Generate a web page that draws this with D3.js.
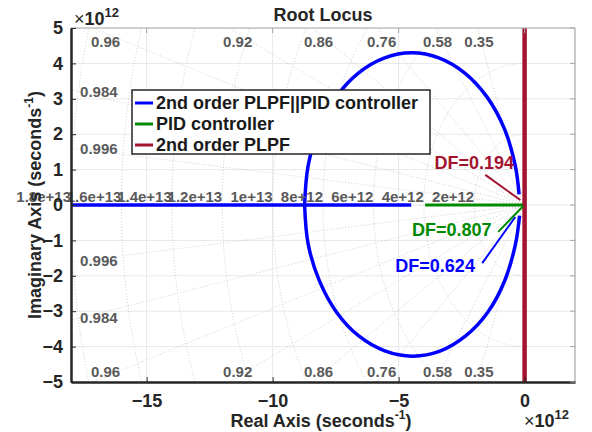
<!DOCTYPE html>
<html>
<head>
<meta charset="utf-8">
<script src="https://cdn.jsdelivr.net/npm/d3@7"></script>
<style>
  body { margin: 0; background: #fff; }
  text { font-family: "Liberation Sans", Arial, sans-serif; font-weight: bold; }
</style>
</head>
<body>
<svg id="chart" width="592" height="432"></svg>
<script>
// values in units of 1e12 s^-1
var X_TICKS = [-15, -10, -5, 0];
var Y_TICKS = [-5, -4, -3, -2, -1, 0, 1, 2, 3, 4, 5];
var DAMPING = [0.35, 0.58, 0.76, 0.86, 0.92, 0.96, 0.984, 0.996];
var WN = [2, 4, 6, 8, 10, 12, 14, 16, 18];
var WN_LABELS = ['2e+12', '4e+12', '6e+12', '8e+12', '1e+13', '1.2e+13', '1.4e+13', '1.6e+13', '1.8e+13'];

var SERIES_NAMES = ['2nd order PLPF||PID controller', 'PID controller', '2nd order PLPF'];
var SERIES_COLORS = ['#0000ff', '#008a00', '#a2142f'];

// 2nd order PLPF||PID : real-axis branch + circular branches
var COMBINED_REAL = [[-18.5, 0], [-4.5, 0]];
var COMBINED_UPPER = [[-8.73, 0], [-8.59, 1.11], [-8.16, 2.15], [-7.49, 3.04], [-6.61, 3.72], [-5.58, 4.15],
  [-4.48, 4.3], [-3.38, 4.15], [-2.36, 3.72], [-1.48, 3.04], [-0.8, 2.15], [-0.37, 1.11], [-0.22, 0.3]];
var COMBINED_LOWER = [[-8.73, 0], [-8.59, -1.1], [-8.15, -2.13], [-7.47, -3.02], [-6.58, -3.7], [-5.55, -4.12],
  [-4.45, -4.27], [-3.36, -4.13], [-2.34, -3.7], [-1.46, -3.03], [-0.79, -2.14], [-0.36, -1.1], [-0.2, -0.3]];
// PID controller
var PID_REAL = [[-3.95, 0], [0, 0]];
// 2nd order PLPF
var PLPF_LOCUS = [[0, 5.5], [0, -5.5]];

var DF_LABELS = ['DF=0.194', 'DF=0.807', 'DF=0.624'];
var DF_SERIES = [2, 1, 0];
var DF_TEXT = [[-2.0, 1.19], [-2.89, -0.71], [-3.55, -1.72]];
var DF_FROM = [[-1.56, 0.85], [-1.05, -0.76], [-1.68, -1.64]];
var DF_TO = [[-0.17, 0.14], [-0.05, -0.03], [-0.37, -0.34]];

var M = {top: 28, right: 17, bottom: 50, left: 71};
var W = 592, H = 432;

var svg = d3.select('#chart');
var x = d3.scaleLinear().domain([-18, 2]).range([M.left, W - M.right]);
var y = d3.scaleLinear().domain([-5, 5]).range([H - M.bottom, M.top]);

svg.append('defs').append('clipPath').attr('id', 'plotClip')
  .append('rect')
  .attr('x', M.left).attr('y', M.top)
  .attr('width', W - M.right - M.left).attr('height', H - M.bottom - M.top);

var plot = svg.append('g').attr('clip-path', 'url(#plotClip)');

// plain grid
plot.selectAll('.gx').data(X_TICKS).enter().append('line')
  .attr('x1', function(d) { return x(d); }).attr('x2', function(d) { return x(d); })
  .attr('y1', M.top).attr('y2', H - M.bottom)
  .style('stroke', '#e8e8e8').style('stroke-width', 1);
plot.selectAll('.gy').data(Y_TICKS).enter().append('line')
  .attr('y1', function(d) { return y(d); }).attr('y2', function(d) { return y(d); })
  .attr('x1', M.left).attr('x2', W - M.right)
  .style('stroke', '#e8e8e8').style('stroke-width', 1);

// damping rays
var rayLine = d3.line().x(function(p) { return x(p[0]); }).y(function(p) { return y(p[1]); });
DAMPING.forEach(function(z) {
  var t = Math.sqrt(1 - z * z) / z;
  [1, -1].forEach(function(s) {
    plot.append('path')
      .attr('d', rayLine([[0, 0], [-30, s * 30 * t]]))
      .style('fill', 'none').style('stroke', '#c4c4c4').style('stroke-width', 0.8)
      .style('stroke-dasharray', '1,2');
  });
});

// natural frequency circles (left half plane)
WN.forEach(function(r) {
  var pts = d3.range(90, 270.5, 2).map(function(a) {
    var rad = a * Math.PI / 180;
    return [r * Math.cos(rad), r * Math.sin(rad)];
  });
  plot.append('path')
    .attr('d', rayLine(pts))
    .style('fill', 'none').style('stroke', '#c4c4c4').style('stroke-width', 0.8)
    .style('stroke-dasharray', '1,2');
});

// grid labels
var gLab = svg.append('g').style('font-size', '15px').style('fill', '#5a5a5a');
DAMPING.forEach(function(z) {
  var t = Math.sqrt(1 - z * z) / z;
  if (z < 0.98) {
    [4.85, -4.85].forEach(function(yy, i) {
      gLab.append('text')
        .attr('x', x(-Math.abs(yy) / t))
        .attr('y', i == 0 ? y(4.61) : y(-4.7))
        .attr('dy', '0.35em')
        .attr('text-anchor', 'middle')
        .text(z);
    });
  } else {
    [1, -1].forEach(function(s) {
      gLab.append('text')
        .attr('x', x(-17.64))
        .attr('y', y(s * 17.64 * t))
        .attr('dy', '0.35em')
        .text(z);
    });
  }
});
WN.forEach(function(r, i) {
  gLab.append('text')
    .attr('x', x(-r))
    .attr('y', y(0) - 3)
    .attr('text-anchor', 'end')
    .text(WN_LABELS[i]);
});

// loci
var line = d3.line().x(function(p) { return x(p[0]); }).y(function(p) { return y(p[1]); });
var curve = d3.line().x(function(p) { return x(p[0]); }).y(function(p) { return y(p[1]); }).curve(d3.curveCatmullRom);

plot.append('path').attr('d', line(COMBINED_REAL))
  .style('fill', 'none').style('stroke', SERIES_COLORS[0]).style('stroke-width', 3.5);
plot.append('path').attr('d', curve(COMBINED_UPPER))
  .style('fill', 'none').style('stroke', SERIES_COLORS[0]).style('stroke-width', 3.5);
plot.append('path').attr('d', curve(COMBINED_LOWER))
  .style('fill', 'none').style('stroke', SERIES_COLORS[0]).style('stroke-width', 3.5);
plot.append('path').attr('d', line(PID_REAL))
  .style('fill', 'none').style('stroke', SERIES_COLORS[1]).style('stroke-width', 3.2);
plot.append('path').attr('d', line(PLPF_LOCUS))
  .style('fill', 'none').style('stroke', SERIES_COLORS[2]).style('stroke-width', 4.5);

// DF annotations
DF_LABELS.forEach(function(lab, i) {
  var col = SERIES_COLORS[DF_SERIES[i]];
  svg.append('line')
    .attr('x1', x(DF_FROM[i][0])).attr('y1', y(DF_FROM[i][1]))
    .attr('x2', x(DF_TO[i][0])).attr('y2', y(DF_TO[i][1]))
    .style('stroke', col).style('stroke-width', 2);
  svg.append('text')
    .attr('x', x(DF_TEXT[i][0])).attr('y', y(DF_TEXT[i][1]))
    .attr('dy', '0.35em')
    .attr('text-anchor', 'middle')
    .style('font-size', '18px')
    .style('fill', col)
    .text(lab);
});

// axes box
svg.append('line').attr('x1', M.left).attr('x2', W - M.right).attr('y1', M.top).attr('y2', M.top)
  .style('stroke', '#a6a6a6').style('stroke-width', 1.2);
svg.append('line').attr('x1', W - M.right).attr('x2', W - M.right).attr('y1', M.top).attr('y2', H - M.bottom)
  .style('stroke', '#a6a6a6').style('stroke-width', 1.2);

var xAxis = svg.append('g').attr('transform', 'translate(0,' + (H - M.bottom) + ')')
  .call(d3.axisBottom(x).tickValues(X_TICKS).tickSizeInner(-5).tickSizeOuter(0).tickPadding(12));
var yAxis = svg.append('g').attr('transform', 'translate(' + M.left + ',0)')
  .call(d3.axisLeft(y).tickValues(Y_TICKS).tickSizeInner(-5).tickSizeOuter(0).tickPadding(8));
[xAxis, yAxis].forEach(function(a) {
  a.select('.domain').style('stroke', '#262626').style('stroke-width', 2.5);
  a.selectAll('.tick line').style('stroke', '#262626');
  a.selectAll('.tick text').style('font-size', '18px').style('fill', '#262626')
    .style('font-family', '"Liberation Sans", Arial, sans-serif').style('font-weight', 'bold');
});
svg.selectAll('.tops').data(X_TICKS).enter().append('line')
  .attr('x1', function(d) { return x(d); }).attr('x2', function(d) { return x(d); })
  .attr('y1', M.top).attr('y2', M.top + 5).style('stroke', '#a6a6a6');
svg.selectAll('.rights').data(Y_TICKS).enter().append('line')
  .attr('x1', W - M.right).attr('x2', W - M.right - 5)
  .attr('y1', function(d) { return y(d); }).attr('y2', function(d) { return y(d); }).style('stroke', '#a6a6a6');

// title and labels
svg.append('text').attr('x', (M.left + W - M.right) / 2).attr('y', 21)
  .attr('text-anchor', 'middle').style('font-size', '18px').style('fill', '#262626').text('Root Locus');

var xl = svg.append('text').attr('x', (M.left + W - M.right) / 2 - 2).attr('y', 427)
  .attr('text-anchor', 'middle').style('font-size', '18px').style('fill', '#262626');
xl.append('tspan').text('Real Axis (seconds');
xl.append('tspan').attr('dy', -8).style('font-size', '12px').text('-1');
xl.append('tspan').attr('dy', 8).text(')');

var yl = svg.append('text').attr('transform', 'translate(41,' + y(0) + ') rotate(-90)')
  .attr('text-anchor', 'middle').style('font-size', '18px').style('fill', '#262626');
yl.append('tspan').text('Imaginary Axis (seconds');
yl.append('tspan').attr('dy', -8).style('font-size', '12px').text('-1');
yl.append('tspan').attr('dy', 8).text(')');

function exponent(px, py) {
  var t = svg.append('text').attr('x', px).attr('y', py).style('font-size', '18px').style('fill', '#262626');
  t.append('tspan').style('font-weight', 'normal').text('\u00d7');
  t.append('tspan').text('10');
  t.append('tspan').attr('dy', -8).style('font-size', '13px').text('12');
}
exponent(74, 25);
exponent(524, 427);

// legend
var lg = svg.append('g');
lg.append('rect').attr('x', 132).attr('y', 90).attr('width', 298).attr('height', 64)
  .style('fill', '#fff').style('stroke', '#262626').style('stroke-width', 1.5);
SERIES_NAMES.forEach(function(name, i) {
  var cy = 103 + i * 21;
  lg.append('line').attr('x1', 135).attr('x2', 153).attr('y1', cy).attr('y2', cy)
    .style('stroke', SERIES_COLORS[i]).style('stroke-width', 3);
  lg.append('text').attr('x', 156).attr('y', cy).attr('dy', '0.35em')
    .style('font-size', '18px').style('fill', '#1a1a1a').text(name);
});
</script>
</body>
</html>
